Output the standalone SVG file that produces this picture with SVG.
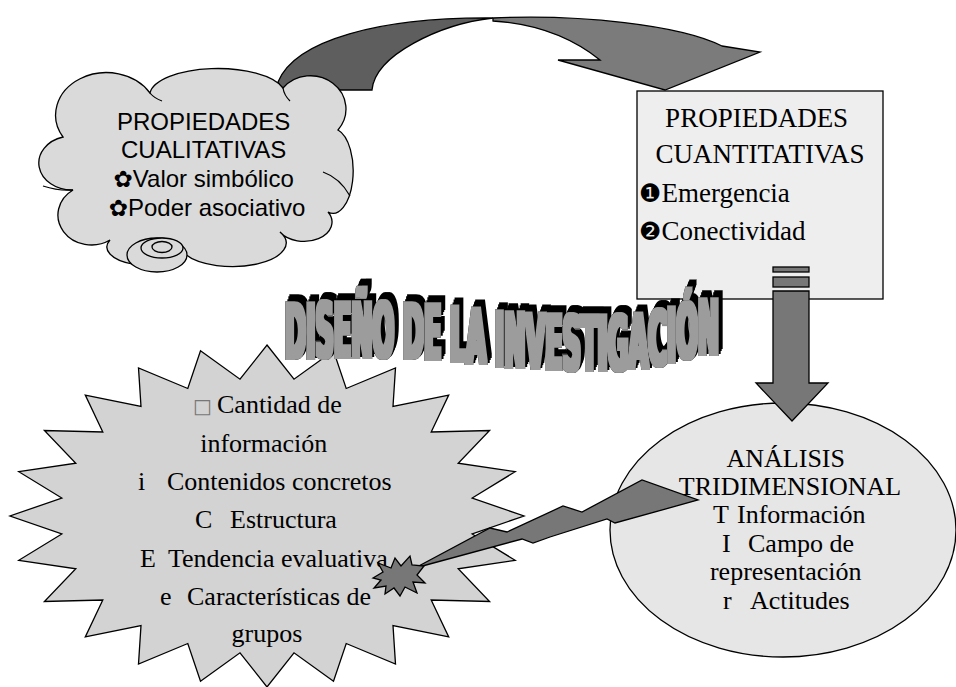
<svg xmlns="http://www.w3.org/2000/svg" width="956" height="687" viewBox="0 0 956 687">
<style>
.sh{stroke:#000;stroke-width:1.3;stroke-linejoin:miter}
.sans{font-family:'Liberation Sans',Arial,sans-serif;fill:#000}
.serif{font-family:'Liberation Serif','Times New Roman',serif;fill:#000}
.sym{font-family:'DejaVu Sans',sans-serif;fill:#000}
.wa{font-family:'DejaVu Sans Condensed','DejaVu Sans',sans-serif;font-weight:700;fill:#000;filter:url(#wordart)}
</style>
<defs>
  <filter id="wordart" x="-5%" y="-40%" width="112%" height="180%" color-interpolation-filters="sRGB">
    <feMorphology in="SourceAlpha" operator="dilate" radius="1.5" result="thick"/>
    <feFlood flood-color="#9c9c9c" result="gray"/>
    <feComposite in="gray" in2="thick" operator="in" result="grayText"/>
    <feMorphology in="SourceAlpha" operator="dilate" radius="2.4" result="outline"/>
    <feOffset in="outline" dx="1.5" dy="-2.5" result="s1"/>
    <feOffset in="outline" dx="3" dy="-5" result="s2"/>
    <feOffset in="outline" dx="4" dy="-7" result="s3"/>
    <feMerge>
      <feMergeNode in="s3"/>
      <feMergeNode in="s2"/>
      <feMergeNode in="s1"/>
      <feMergeNode in="outline"/>
      <feMergeNode in="grayText"/>
    </feMerge>
  </filter>
</defs>
<rect width="956" height="687" fill="#fff"/>

<g id="connectors">
  <g id="curved-arrow">
    <path class="sh" fill="#5e5e5e" d="M278,82 C295,40 380,17 493,18 C440,24 375,55 372,90 L362,90 L282,90 Z"/>
    <path class="sh" fill="#7b7b7b" d="M493,18 C580,14 680,25 722,46 L760,52 L665,90 L558,60 L600,60 C575,40 540,24 493,21 Z"/>
  </g>
</g>

<g id="cloud">
  <path class="sh" fill="#dadada" d="M73,190 A33,27 0 0 1 63,137 A48,40 0 0 1 150,93 A68,27 0 0 1 283,88 A32,30 0 0 1 338,130 A20,42 0 0 1 328,212 A26,18 0 0 1 280,232 A50,22 0 0 1 185,254 A40,18 0 0 1 110,240 A28,25 0 0 1 73,190 Z"/>
  <path fill="none" stroke="#000" stroke-width="1.2" d="M43,186 Q58,191 73,190 M323,172 Q340,178 350,196 M150,93 Q154,98 162,101 M283,88 Q284,95 290,101"/>
  <ellipse class="sh" fill="#dadada" cx="157" cy="255" rx="30" ry="17"/>
  <ellipse class="sh" fill="#dadada" cx="162" cy="248" rx="21" ry="10"/>
  <ellipse class="sh" fill="#dadada" cx="162" cy="247" rx="10" ry="5.5"/>
  <text class="sans" font-size="24" text-anchor="middle">
    <tspan x="207" y="130">PROPIEDADES</tspan>
    <tspan x="207" y="158">CUALITATIVAS</tspan>
    <tspan x="207" y="187"><tspan class="sym" font-size="23">✿</tspan>Valor simbólico</tspan>
    <tspan x="207" y="216"><tspan class="sym" font-size="23">✿</tspan>Poder asociativo</tspan>
  </text>
</g>

<g id="box">
  <rect class="sh" fill="#eeeeee" x="637" y="91" width="246" height="208"/>
  <text class="serif" font-size="27" text-anchor="middle">
    <tspan x="760" y="127">PROPIEDADES</tspan>
    <tspan x="760" y="163">CUANTITATIVAS</tspan>
  </text>
  <text class="serif" font-size="27">
    <tspan x="639" y="202"><tspan class="sym" font-size="25">❶</tspan>Emergencia</tspan>
    <tspan x="639" y="240"><tspan class="sym" font-size="25">❷</tspan>Conectividad</tspan>
  </text>
</g>

<g id="star">
  <polygon class="sh" fill="#d3d3d3" points="267,345 294,379.2 333.5,350.8 346.2,388.5 395.5,367.9 393,406.5 448.7,395.1 431.2,432 489.6,430.5 458.2,463.2 515.2,471.7 472.2,498 524,516 472.2,534 515.2,560.3 458.2,568.8 489.6,601.5 431.2,600 448.7,636.9 393,625.5 395.5,664.1 346.2,643.5 333.5,681.2 294,652.8 267,687 240,652.8 200.5,681.2 187.8,643.5 138.5,664.1 141,625.5 85.3,636.9 102.8,600 44.4,601.5 75.8,568.8 18.8,560.3 61.8,534 10,516 61.8,498 18.8,471.7 75.8,463.2 44.4,430.5 102.8,432 85.3,395.1 141,406.5 138.5,367.9 187.8,388.5 200.5,350.8 240,379.2"/>
  <text class="serif" font-size="26">
    <tspan x="193" y="413" class="sym" font-size="20" style="fill:#777">□</tspan><tspan x="217" y="413">Cantidad de</tspan>
    <tspan x="267" y="452" text-anchor="middle">información</tspan>
    <tspan x="138" y="490">i</tspan><tspan x="167" y="490">Contenidos concretos</tspan>
    <tspan x="195" y="528">C</tspan><tspan x="230" y="528">Estructura</tspan>
    <tspan x="140" y="567">E</tspan><tspan x="168" y="567">Tendencia evaluativa</tspan>
    <tspan x="160" y="605">e</tspan><tspan x="187" y="605">Características de</tspan>
    <tspan x="267" y="642" text-anchor="middle">grupos</tspan>
  </text>
</g>

<g id="ellipse">
  <ellipse class="sh" fill="#e6e6e6" cx="783" cy="530" rx="173" ry="127"/>
  <text class="serif" font-size="26" text-anchor="middle">
    <tspan x="789" y="467">ANÁLISIS</tspan>
    <tspan x="790" y="495">TRIDIMENSIONAL</tspan>
  </text>
  <text class="serif" font-size="26">
    <tspan x="713" y="523">T</tspan><tspan x="737" y="523">Información</tspan>
    <tspan x="722" y="552">I</tspan><tspan x="748" y="552">Campo de</tspan>
    <tspan x="789" y="580" text-anchor="middle">representación</tspan>
    <tspan x="723" y="609">r</tspan><tspan x="750" y="609">Actitudes</tspan>
  </text>
</g>

<g id="title">
  <text class="wa" font-size="74" x="285" y="358 358 357 357 357 357 358 358 359 360 361 363 364 366 367 368 369 370 370 370 370 368 365 362 358 354" textLength="434" lengthAdjust="spacingAndGlyphs">DISEÑO DE LA INVESTIGACIÓN</text>
</g>

<g id="connectors-front">
  <g id="down-arrow" class="sh" fill="#777">
    <rect x="773" y="267" width="36" height="5"/>
    <rect x="773" y="277" width="36" height="10"/>
    <path d="M773,291 L809,291 L809,383 L828,383 L792,421 L756,383 L773,383 Z"/>
  </g>
  <polygon id="lightning" class="sh" fill="#777" points="415,568 490,528 507,532 563,506 582,512 642,480 698,500 615,523 607,519 550,537 533,543 522,539"/>
  <polygon id="burst" class="sh" fill="#777" points="373,578 383,572 378,563 391,568 395,558 401,566 410,556 412,565 424,566 417,575 425,583 413,582 417,593 405,587 400,596 394,588 385,594 386,586 374,588 381,580"/>
</g>
</svg>
